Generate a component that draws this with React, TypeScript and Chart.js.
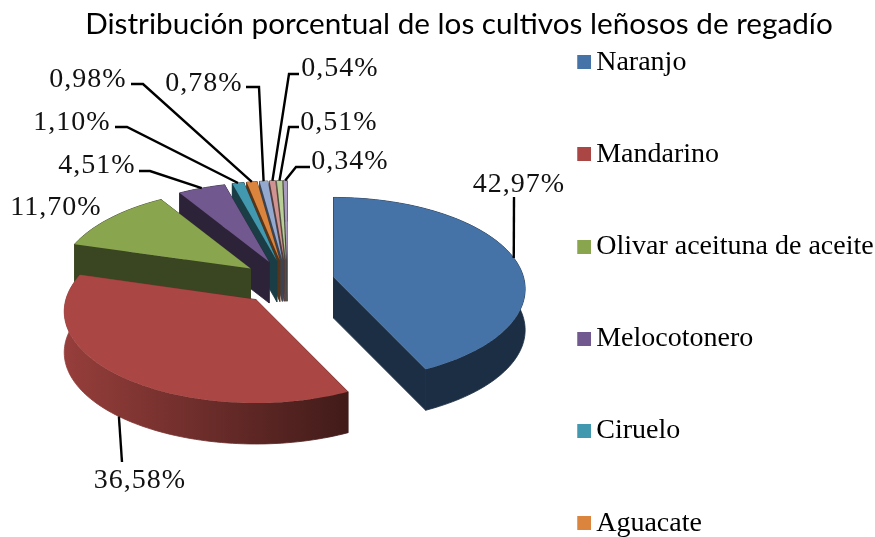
import React, { useEffect, useRef } from "react";
import { Chart, registerables } from "chart.js";

Chart.register(...registerables);

const categories = ["Naranjo", "Mandarino", "Olivar aceituna de aceite", "Melocotonero", "Ciruelo", "Aguacate", "Limonero", "Almendro", "Nectarino", "Otros"];
const shares = [42.97, 36.58, 11.7, 4.51, 1.1, 0.98, 0.78, 0.54, 0.51, 0.34];
const colors = ["#4572A7", "#AA4643", "#89A54E", "#71588F", "#4198AF", "#DB843D", "#93A9CF", "#D19392", "#B9CD96", "#A99BBD"];
const titleText = "Distribución porcentual de los cultivos leñosos de regadío";
const shownLegendItems = 6;

// Look of the 3D pie
const view = { cx: 287.5, cy: 282, rx: 190, ry: 90, persp: 0.13, explode: 0.25, depth: 41 };
const sideShade: [number, number][] = [[0.4, 0.4], [0.88, 0.38], [0.42, 0.42], [0.4, 0.4], [0.4, 0.4], [0.4, 0.4], [0.4, 0.4], [0.4, 0.4], [0.4, 0.4], [0.4, 0.4]];
const paintOrder = [9, 8, 7, 6, 5, 4, 3, 2, 0, 1];
// Label centre and leader bend points, anchored to the slice rim by the plugin
const labelPlacement: { x: number; y: number; bends: [number, number][]; onWall?: boolean }[] = [
  { x: 519, y: 185, bends: [[514, 197]] },
  { x: 140, y: 481, bends: [[122, 462]], onWall: true },
  { x: 56, y: 208, bends: [] },
  { x: 97, y: 166, bends: [[139, 171], [150, 171]] },
  { x: 72, y: 123, bends: [[115, 127], [127, 127]] },
  { x: 88, y: 80, bends: [[131, 84], [143, 84]] },
  { x: 204, y: 84, bends: [[246, 87], [259, 87]] },
  { x: 340, y: 69, bends: [[299, 74], [289, 74]] },
  { x: 339, y: 123, bends: [[299, 127], [289, 127]] },
  { x: 350, y: 162, bends: [[310, 167], [296, 167]] },
];

const shade = (hex: string, f: number) => {
  const n = parseInt(hex.slice(1), 16);
  return `rgb(${Math.round(((n >> 16) & 255) * f)},${Math.round(((n >> 8) & 255) * f)},${Math.round((n & 255) * f)})`;
};

const project = (u: number, v: number): [number, number] => {
  const d = 1 - view.persp * v;
  return [(view.rx * u) / d, (view.ry * v) / d];
};

const sliceApex = (mid: number): [number, number] => {
  const [x, y] = project(view.explode * Math.sin(mid), -view.explode * Math.cos(mid));
  return [view.cx + x, view.cy + y];
};

const rimPoint = (apex: [number, number], a: number): [number, number] => {
  const [x, y] = project(Math.sin(a), -Math.cos(a));
  return [apex[0] + x, apex[1] + y];
};

const swatch = (color: string) => {
  const c = document.createElement("canvas");
  c.width = 20;
  c.height = 14;
  const g = c.getContext("2d")!;
  g.fillStyle = color;
  g.fillRect(6, 0, 14, 14);
  return c;
};

const fillPoly = (ctx: CanvasRenderingContext2D, pts: [number, number][], edge = false) => {
  ctx.beginPath();
  pts.forEach((p, k) => (k ? ctx.lineTo(p[0], p[1]) : ctx.moveTo(p[0], p[1])));
  ctx.closePath();
  ctx.fill();
  if (edge) ctx.stroke();
};

const pie3d = {
  id: "pie3d",
  afterLayout(chart: any) {
    const lg = chart.legend;
    lg.maxHeight = 3000;
    lg.fit();
    lg.left = 516;
    lg.right = 875;
    lg.top = -16;
    lg.bottom = 3000;
    lg.adjustHitBoxes();
  },
  beforeDatasetsDraw(chart: any) {
    const ctx = chart.ctx;
    const arcs = chart.getDatasetMeta(0).data;
    const angle = (i: number) => {
      const s = arcs[i].startAngle + Math.PI / 2;
      const e = arcs[i].endAngle + Math.PI / 2;
      return { s, e, m: (s + e) / 2 };
    };
    ctx.save();
    for (const i of paintOrder) {
      const { s, e, m } = angle(i);
      const base = arcs[i].options.backgroundColor;
      const apex = sliceApex(m);
      const rim: [number, number][] = [];
      const n = Math.max(4, Math.ceil((e - s) * 40));
      for (let k = 0; k <= n; k++) rim.push(rimPoint(apex, s + ((e - s) * k) / n));
      const xs = [apex[0], ...rim.map((p) => p[0])];
      const grad = ctx.createLinearGradient(Math.min(...xs), 0, Math.max(...xs), 0);
      grad.addColorStop(0, shade(base, sideShade[i][0]));
      grad.addColorStop(1, shade(base, sideShade[i][1]));
      ctx.fillStyle = grad;
      ctx.strokeStyle = grad;
      ctx.lineWidth = 0.8;
      const drop = (p: [number, number]): [number, number] => [p[0], p[1] + view.depth];
      const first = rim[0];
      const last = rim[rim.length - 1];
      fillPoly(ctx, [apex, first, drop(first), drop(apex)], true);
      fillPoly(ctx, [apex, last, drop(last), drop(apex)], true);
      fillPoly(ctx, [...rim, ...rim.slice().reverse().map(drop)], true);
      ctx.fillStyle = base;
      fillPoly(ctx, [apex, ...rim]);
    }
    // leaders and labels
    ctx.strokeStyle = "#000";
    ctx.lineWidth = 2.4;
    ctx.fillStyle = "#111";
    ctx.font = '28px "Liberation Serif"';
    (ctx as any).letterSpacing = "1px";
    ctx.textAlign = "center";
    ctx.textBaseline = "middle";
    shares.forEach((v, i) => {
      const place = labelPlacement[i];
      if (place.bends.length) {
        const { m } = angle(i);
        const end = rimPoint(sliceApex(m), m);
        ctx.beginPath();
        place.bends.forEach((p, k) => (k ? ctx.lineTo(p[0], p[1]) : ctx.moveTo(p[0], p[1])));
        ctx.lineTo(end[0], end[1] + (place.onWall ? view.depth : 0));
        ctx.stroke();
      }
      ctx.fillText(v.toFixed(2).replace(".", ",") + "%", place.x, place.y);
    });
    ctx.restore();
    return false;
  },
};

export default function App() {
  const ref = useRef<HTMLCanvasElement>(null);
  useEffect(() => {
    document.body.style.margin = "0";
    const chart = new Chart(ref.current!, {
      type: "pie",
      data: {
        labels: categories,
        datasets: [{ data: shares, backgroundColor: colors, borderWidth: 0 }],
      },
      options: {
        responsive: false,
        animation: false,
        layout: { padding: { left: 43 } },
        plugins: {
          tooltip: { enabled: false },
          title: {
            display: true,
            text: titleText,
            color: "#000",
            font: { family: "Lato", size: 29.7, weight: "normal" },
            padding: { top: 7, bottom: 6 },
          },
          legend: {
            display: true,
            position: "right",
            align: "start",
            labels: {
              color: "#111",
              font: { family: "Liberation Serif", size: 28 },
              padding: 64.2,
              boxWidth: 14,
              boxHeight: 14,
              usePointStyle: true,
              pointStyleWidth: 2,
              generateLabels: (c: any) =>
                c.data.labels.slice(0, shownLegendItems).map((text: string, index: number) => ({
                  text,
                  index,
                  pointStyle: swatch(colors[index]),
                  fillStyle: colors[index],
                  strokeStyle: colors[index],
                  lineWidth: 0,
                })),
            },
          },
        },
      } as any,
      plugins: [pie3d],
    });
    return () => chart.destroy();
  }, []);
  return <canvas ref={ref} width={875} height={537} style={{ display: "block" }} />;
}
